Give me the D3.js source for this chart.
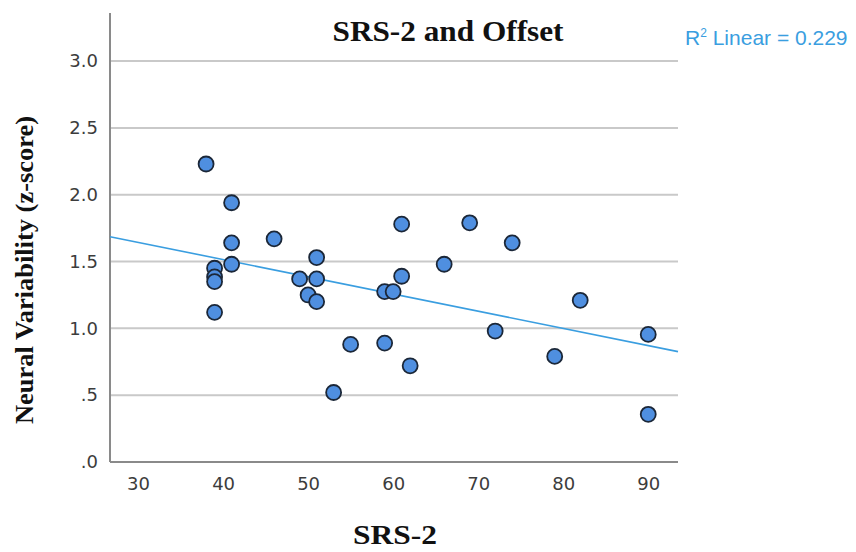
<!DOCTYPE html>
<html>
<head>
<meta charset="utf-8">
<script src="https://cdn.jsdelivr.net/npm/d3@7"></script>
<style>
  html, body { margin: 0; padding: 0; background: #fff; }
  svg { display: block; }
</style>
</head>
<body>
<svg id="chart" width="856" height="552"></svg>
<script>
// SRS-2 total score for each participant
const srs = [38, 41, 41, 41, 39, 39, 39, 39, 46, 49, 51, 51, 50, 51, 55, 53,
             59, 60, 59, 61, 61, 62, 66, 69, 74, 72, 79, 82, 90, 90];
// Neural variability (offset, z-score) for the same participants
const offset = [2.23, 1.94, 1.64, 1.48, 1.45, 1.385, 1.35, 1.12, 1.67, 1.37, 1.53, 1.37,
                1.25, 1.20, 0.88, 0.52, 1.275, 1.275, 0.89, 1.39, 1.78, 0.72, 1.48, 1.79,
                1.64, 0.98, 0.79, 1.21, 0.955, 0.357];
const xTicks = [30, 40, 50, 60, 70, 80, 90];
const yTicks = [0, 0.5, 1.0, 1.5, 2.0, 2.5, 3.0];
const yTickLabels = [".0", ".5", "1.0", "1.5", "2.0", "2.5", "3.0"];
const rSquared = 0.229;

const svg = d3.select("#chart");
const m = { left: 110, right: 678, top: 13, bottom: 462 };

const x = d3.scaleLinear().domain([26.7, 93.5]).range([m.left, m.right]);
const y = d3.scaleLinear().domain([0, 3.36]).range([m.bottom, m.top]);

// horizontal gridlines
svg.append("g")
  .selectAll("line")
  .data(yTicks.filter(d => d > 0))
  .join("line")
  .attr("x1", m.left).attr("x2", m.right)
  .attr("y1", d => y(d)).attr("y2", d => y(d))
  .attr("stroke", "#c9c9c9").attr("stroke-width", 2);

// axes
const yAxis = svg.append("g")
  .attr("transform", `translate(${m.left},0)`)
  .call(d3.axisLeft(y).tickValues(yTicks)
    .tickFormat((d, i) => yTickLabels[i]).tickSize(0).tickPadding(12));
const xAxis = svg.append("g")
  .attr("transform", `translate(0,${m.bottom})`)
  .call(d3.axisBottom(x).tickValues(xTicks).tickSize(0).tickPadding(15));

[yAxis, xAxis].forEach(g => {
  g.select(".domain").attr("stroke", "#8a8a8a").attr("stroke-width", 2);
  g.selectAll("text")
    .attr("font-family", "DejaVu Sans, sans-serif")
    .attr("font-size", 18)
    .attr("fill", "#3c3c3c");
});
yAxis.select(".domain").attr("d", `M0,${m.top}V${m.bottom}`);
xAxis.select(".domain").attr("d", `M${m.left},0H${m.right}`);

// least-squares fit line
const mx = d3.mean(srs), my = d3.mean(offset);
let sxy = 0, sxx = 0;
srs.forEach((v, i) => { sxy += (v - mx) * (offset[i] - my); sxx += (v - mx) * (v - mx); });
const slope = sxy / sxx, intercept = my - slope * mx;
const [x0, x1] = x.domain();
svg.append("line")
  .attr("x1", x(x0)).attr("y1", y(intercept + slope * x0))
  .attr("x2", x(x1)).attr("y2", y(intercept + slope * x1))
  .attr("stroke", "#3a9ee0").attr("stroke-width", 1.6);

// participants
svg.append("g")
  .selectAll("circle")
  .data(srs.map((v, i) => [v, offset[i]]))
  .join("circle")
  .attr("cx", d => x(d[0])).attr("cy", d => y(d[1]))
  .attr("r", 7.5)
  .attr("fill", "#4f8fe0")
  .attr("stroke", "#1b2738").attr("stroke-width", 1.8);

// titles
const serif = "Liberation Serif, Times New Roman, serif";
svg.append("text")
  .attr("x", 448).attr("y", 41)
  .attr("text-anchor", "middle")
  .attr("font-family", serif)
  .attr("font-weight", "bold").attr("font-size", 29)
  .attr("textLength", 231).attr("lengthAdjust", "spacingAndGlyphs")
  .attr("fill", "#111")
  .text("SRS-2 and Offset");

svg.append("text")
  .attr("x", 395).attr("y", 544)
  .attr("text-anchor", "middle")
  .attr("font-family", serif)
  .attr("font-weight", "bold").attr("font-size", 28)
  .attr("textLength", 84).attr("lengthAdjust", "spacingAndGlyphs")
  .attr("fill", "#111")
  .text("SRS-2");

svg.append("text")
  .attr("transform", "translate(33,270) rotate(-90)")
  .attr("text-anchor", "middle")
  .attr("font-family", serif)
  .attr("font-weight", "bold").attr("font-size", 25)
  .attr("textLength", 308).attr("lengthAdjust", "spacingAndGlyphs")
  .attr("fill", "#111")
  .text("Neural Variability (z-score)");

// fit annotation
const r2 = svg.append("text")
  .attr("x", 685).attr("y", 45)
  .attr("font-family", "Liberation Sans, Arial, sans-serif")
  .attr("font-size", 21)
  .attr("fill", "#3a9ee0");
r2.append("tspan").text("R");
r2.append("tspan").attr("font-size", 12).attr("dy", -8).text("2");
r2.append("tspan").attr("dy", 8).text(" Linear = " + rSquared.toFixed(3));
</script>
</body>
</html>
